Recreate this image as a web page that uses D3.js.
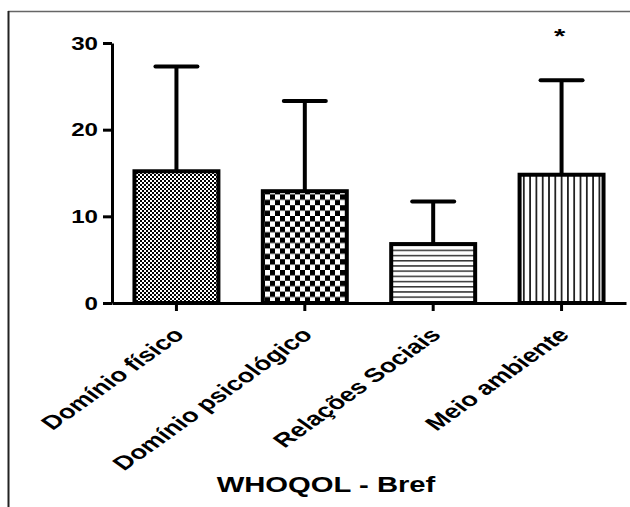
<!DOCTYPE html>
<html><head><meta charset="utf-8">
<script src="https://cdn.jsdelivr.net/npm/d3@7"></script>
<style>
html,body{margin:0;padding:0;background:#fff;}
svg{display:block;}
text{font-family:"Liberation Sans",Arial,sans-serif;font-weight:bold;fill:#000;}
</style></head>
<body>
<svg id="chart" width="630" height="507"></svg>
<script>
const categories = ["Domínio físico", "Domínio psicológico", "Relações Sociais", "Meio ambiente"];
const means = [15.2, 12.9, 6.8, 14.8];
const upperErr = [27.3, 23.3, 11.7, 25.7];
const patterns = ["fineCheck", "coarseCheck", "hLines", "vLines"];
const yTicks = [0, 10, 20, 30];
const xTitle = "WHOQOL - Bref";
const sigMarks = ["", "", "", "*"];

const svg = d3.select("#chart");
const SX = 1.38;

// frame
svg.append("line").attr("x1", 8).attr("x2", 630).attr("y1", 11.5).attr("y2", 11.5).attr("stroke", "#666").attr("stroke-width", 1.5);
svg.append("line").attr("x1", 8.5).attr("x2", 8.5).attr("y1", 11).attr("y2", 507).attr("stroke", "#222").attr("stroke-width", 2);

const defs = svg.append("defs");
let p = defs.append("pattern").attr("id", "fineCheck").attr("patternUnits", "userSpaceOnUse").attr("width", 4).attr("height", 4);
p.append("rect").attr("width", 4).attr("height", 4).attr("fill", "#fff");
p.append("rect").attr("width", 2).attr("height", 2).attr("fill", "#000");
p.append("rect").attr("x", 2).attr("y", 2).attr("width", 2).attr("height", 2).attr("fill", "#000");
p = defs.append("pattern").attr("id", "coarseCheck").attr("patternUnits", "userSpaceOnUse").attr("width", 10).attr("height", 10.8);
p.append("rect").attr("width", 10).attr("height", 10.8).attr("fill", "#fff");
p.append("rect").attr("width", 5).attr("height", 5.4).attr("fill", "#000");
p.append("rect").attr("x", 5).attr("y", 5.4).attr("width", 5).attr("height", 5.4).attr("fill", "#000");
p = defs.append("pattern").attr("id", "hLines").attr("patternUnits", "userSpaceOnUse").attr("width", 10).attr("height", 5.2);
p.append("rect").attr("width", 10).attr("height", 5.2).attr("fill", "#fff");
p.append("rect").attr("y", 0).attr("width", 10).attr("height", 1.5).attr("fill", "#333");
p = defs.append("pattern").attr("id", "vLines").attr("patternUnits", "userSpaceOnUse").attr("width", 6.3).attr("height", 10);
p.append("rect").attr("width", 6.3).attr("height", 10).attr("fill", "#fff");
p.append("rect").attr("x", 0).attr("width", 1.8).attr("height", 10).attr("fill", "#222");

const x = d3.scaleBand().domain(categories).range([112, 626]).paddingInner(0.346).paddingOuter(0.175);
const y = d3.scaleLinear().domain([0, 30]).range([303, 43]);

const bars = svg.append("g");
categories.forEach((c, i) => {
  const bx = x(c), bw = x.bandwidth(), cx = bx + bw / 2;
  bars.append("line").attr("x1", cx).attr("x2", cx).attr("y1", y(means[i])).attr("y2", y(upperErr[i]))
    .attr("stroke", "#000").attr("stroke-width", 4);
  bars.append("line").attr("x1", cx - 21).attr("x2", cx + 21).attr("y1", y(upperErr[i])).attr("y2", y(upperErr[i]))
    .attr("stroke", "#000").attr("stroke-width", 4).attr("stroke-linecap", "round");
  bars.append("rect").attr("x", bx).attr("y", y(means[i])).attr("width", bw).attr("height", y(0) - y(means[i]))
    .attr("fill", "url(#" + patterns[i] + ")").attr("stroke", "#000").attr("stroke-width", 4);
  if (sigMarks[i]) {
    bars.append("text").attr("transform", `translate(${cx - 2},${y(upperErr[i]) - 37}) scale(${SX},1)`)
      .attr("text-anchor", "middle").attr("font-size", 21).text(sigMarks[i]);
  }
});

const yAxis = svg.append("g").attr("transform", "translate(112,0)")
  .call(d3.axisLeft(y).tickValues(yTicks).tickSize(9).tickPadding(4).tickSizeOuter(0));
yAxis.select(".domain").attr("stroke", "#000").attr("stroke-width", 3);
yAxis.selectAll(".tick line").attr("stroke", "#000").attr("stroke-width", 3);
yAxis.selectAll(".tick text").attr("font-size", 17.5).attr("font-family", null)
  .attr("x", -14 / SX).attr("transform", `scale(${SX},1)`).attr("dy", "0.36em");

const xAxis = svg.append("g").attr("transform", "translate(0,303)")
  .call(d3.axisBottom(x).tickSize(8).tickSizeOuter(0));
xAxis.select(".domain").attr("stroke", "#000").attr("stroke-width", 3);
xAxis.selectAll(".tick line").attr("stroke", "#000").attr("stroke-width", 3);
xAxis.selectAll(".tick text").attr("font-size", 19.5).attr("font-family", null)
  .attr("text-anchor", "end").attr("y", 0).attr("dy", 0)
  .attr("transform", `translate(9,33) scale(1.4,1) rotate(-45)`);

svg.append("text").attr("transform", `translate(326,492) scale(1.3,1)`).attr("text-anchor", "middle")
  .attr("font-size", 22.5).text(xTitle);
</script>
</body></html>
